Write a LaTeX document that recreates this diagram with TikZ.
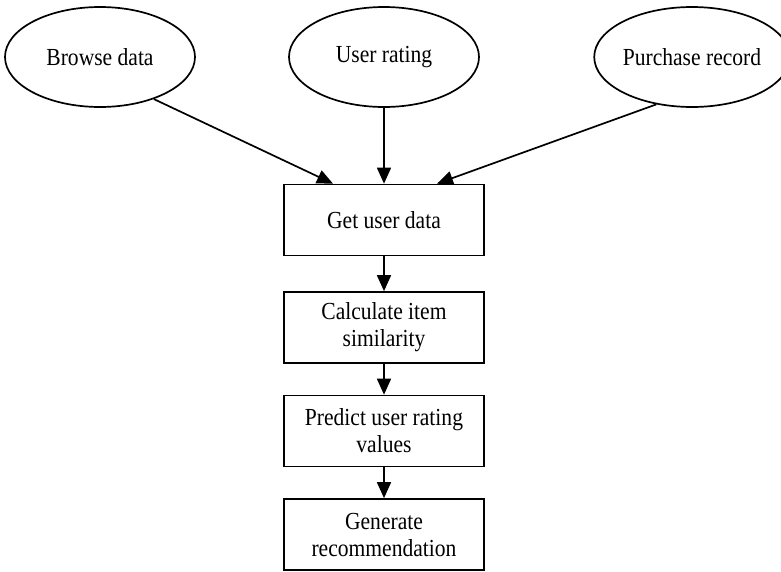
\documentclass[tikz,border=0pt]{standalone}
\usepackage{fontspec}
\setmainfont[FakeStretch=0.88]{Liberation Serif}
\usetikzlibrary{shapes.geometric,arrows.meta}
\begin{document}
\begin{tikzpicture}[x=1pt,y=-1pt,
  every node/.style={font=\fontsize{24.5}{27}\selectfont},
  oval/.style={draw,ellipse,line width=1.7pt,minimum width=190pt,minimum height=100pt,inner sep=0pt},
  boxnode/.style={draw,rectangle,line width=1.7pt,minimum width=200pt,minimum height=71pt,align=center,inner sep=2pt},
  arr/.style={line width=1.7pt,-{Triangle[length=16pt,width=14pt]}}]
\clip (0,0) rectangle (781,571);
\useasboundingbox (0,0) rectangle (781,571);
\node[oval] (b) at (100,57) {Browse data};
\node[oval] (u) at (384,57) {User rating};
\node[oval] (p) at (692,57) {Purchase record};
\node[boxnode] (g) at (384,220) {Get user data};
\node[boxnode] (c) at (384,327.5) {Calculate item\\similarity};
\node[boxnode] (r) at (384,431) {Predict user rating\\values};
\node[boxnode] (n) at (384,534.5) {Generate\\recommendation};
\draw[arr] (b.-38) -- ([xshift=-51pt]g.north);
\draw[arr] (u.south) -- (g.north);
\draw[arr] (p.-127) -- ([xshift=53pt]g.north);
\draw[arr] (g) -- (c);
\draw[arr] (c) -- (r);
\draw[arr] (r) -- (n);
\end{tikzpicture}
\end{document}
